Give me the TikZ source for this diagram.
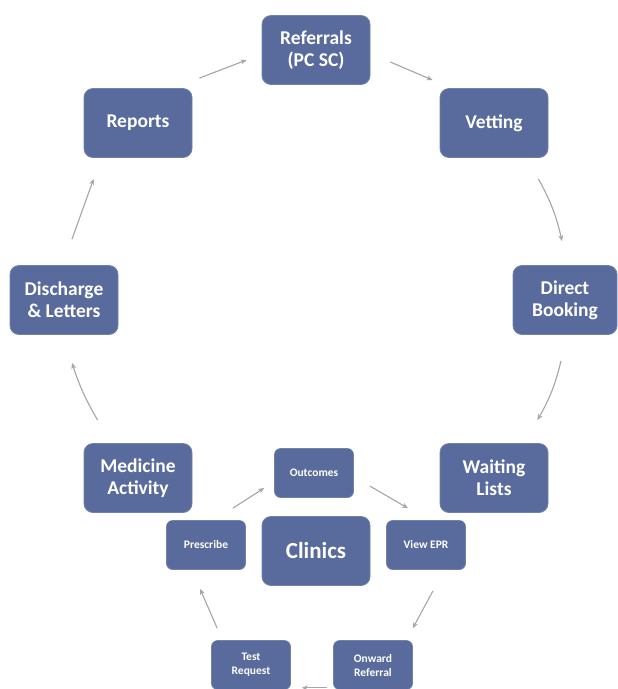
\documentclass[tikz,border=0pt]{standalone}
\usepackage{fontspec}
\setmainfont{Carlito}
\usetikzlibrary{calc,arrows.meta}
\definecolor{boxblue}{RGB}{88,107,156}
\definecolor{arrgray}{RGB}{165,165,170}
\tikzset{
  bigbox/.style={draw=boxblue!85!white, line width=0.8pt, fill=boxblue, rounded corners=9pt,
    minimum width=108pt, minimum height=69pt, text=white, font=\bfseries\fontsize{19.5}{22}\selectfont,
    align=center, inner sep=2pt},
  smallbox/.style={draw=boxblue!85!white, line width=0.6pt, fill=boxblue, rounded corners=6pt,
    minimum width=79pt, minimum height=49pt, text=white, font=\bfseries\fontsize{11.5}{14}\selectfont,
    align=center, inner sep=1pt},
  arr/.style={draw=arrgray, line width=1.1pt, -{Stealth[length=6pt,width=5pt]}}
}
\begin{document}
\begin{tikzpicture}[x=1pt,y=-1pt]
\useasboundingbox (0,0) rectangle (618,689);
% outer ring
\node[bigbox] (referrals) at (316,50) {Referrals\\(PC SC)};
\node[bigbox] (vetting) at (494,123) {Vetting};
\node[bigbox] (reports) at (138,123) {Reports};
\node[bigbox, minimum width=104pt] (direct) at (565,300) {Direct\\Booking};
\node[bigbox] (discharge) at (64,300) {Discharge\\\& Letters};
\node[bigbox] (medicine) at (138,478) {Medicine\\Activity};
\node[bigbox] (waiting) at (494,478) {Waiting\\Lists};
% inner ring
\node[bigbox, font=\bfseries\fontsize{23}{25}\selectfont] (clinics) at (316,551) {Clinics};
\node[smallbox] (outcomes) at (314,473) {Outcomes};
\node[smallbox] (prescribe) at (206,545) {Prescribe};
\node[smallbox] (viewepr) at (426,545) {View EPR};
\node[smallbox] (test) at (251,665) {Test\\Request};
\node[smallbox] (onward) at (373,665) {Onward\\Referral};
% outer arrows
\draw[arr] ($(reports.north east)+(7,-10)$) -- ($(referrals.west)+(-15,10)$);
\draw[arr] ($(referrals.east)+(20,12)$) -- ($(vetting.north west)+(-7,-8)$);
\draw[arr] ($(vetting.south east)+(-10,21)$) to[bend left=8] ($(direct.north)+(-3,-24)$);
\draw[arr] ($(direct.south)+(-4,26)$) to[bend left=8] ($(waiting.north east)+(-11,-23)$);
\draw[arr] ($(medicine.north west)+(14,-23)$) to[bend left=6] ($(discharge.south)+(8,28)$);
\draw[arr] ($(discharge.north)+(8,-26)$) -- ($(reports.south west)+(10,21)$);
% inner arrows
\draw[arr] ($(prescribe.north east)+(-13,-12)$) -- ($(outcomes.west)+(-10,15)$);
\draw[arr] ($(outcomes.east)+(16,13)$) -- ($(viewepr.north)+(-18,-12)$);
\draw[arr] ($(viewepr.south)+(7,21)$) -- ($(onward.north east)+(0,-12)$);
\draw[arr] ($(onward.south west)+(-6,-2)$) -- ($(test.south east)+(11,-2)$);
\draw[arr] ($(test.north west)+(6,-12)$) -- ($(prescribe.south)+(-6,19)$);
\end{tikzpicture}
\end{document}
